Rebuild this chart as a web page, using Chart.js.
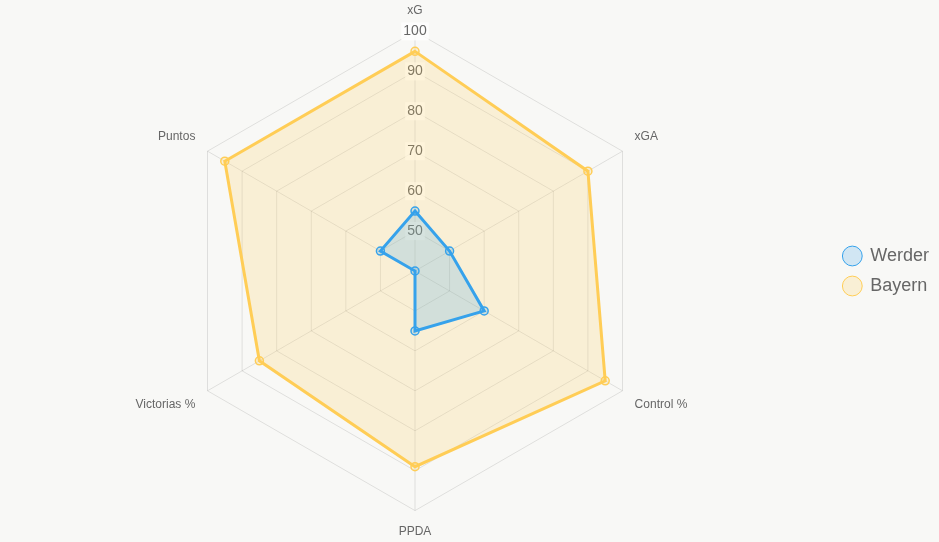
<!DOCTYPE html>
<html>
<head>
<meta charset="utf-8">
<script src="https://cdn.jsdelivr.net/npm/chart.js@4/dist/chart.umd.min.js"></script>
<style>
    html, body { margin: 0; padding: 0; background: #f8f8f6; }
    #wrap { width: 939px; height: 542px; }
</style>
</head>
<body>
<div id="wrap"><canvas id="radarChart"></canvas></div>
<script>
const labels = ['xG', 'xGA', 'Control %', 'PPDA', 'Victorias %', 'Puntos'];
const werderValues = [55, 50, 60, 55, 40, 50];
const bayernValues = [95, 90, 95, 89, 85, 95];

const ctx = document.getElementById('radarChart').getContext('2d');
new Chart(ctx, {
    type: 'radar',
    data: {
        labels: labels,
        datasets: [{
            label: 'Werder',
            data: werderValues,
            borderColor: '#36a2eb',
            backgroundColor: 'rgba(54, 162, 235, 0.2)',
            pointBackgroundColor: 'rgba(54, 162, 235, 0.2)',
            pointBorderColor: '#36a2eb',
            borderWidth: 3,
            pointBorderWidth: 1.5,
            pointRadius: 4
        }, {
            label: 'Bayern',
            data: bayernValues,
            borderColor: '#ffcd56',
            backgroundColor: 'rgba(255, 205, 86, 0.2)',
            pointBackgroundColor: 'rgba(255, 205, 86, 0.2)',
            pointBorderColor: '#ffcd56',
            borderWidth: 3,
            pointBorderWidth: 1.5,
            pointRadius: 4
        }]
    },
    options: {
        responsive: true,
        maintainAspectRatio: false,
        animation: false,
        layout: { padding: { top: 3, bottom: 3 } },
        plugins: {
            legend: {
                position: 'right',
                labels: {
                    usePointStyle: true,
                    pointStyle: 'circle',
                    boxHeight: 14,
                    padding: 12,
                    font: { size: 18 },
                    color: '#666',
                    generateLabels: chart => {
                        const items = Chart.defaults.plugins.legend.labels.generateLabels(chart);
                        items.forEach(item => { item.lineWidth = 1; });
                        return items;
                    }
                }
            }
        },
        scales: {
            r: {
                min: 40,
                max: 100,
                ticks: { stepSize: 10, font: { size: 14 }, color: '#666' },
                pointLabels: { font: { size: 12 }, color: '#666' },
                grid: { color: 'rgba(0,0,0,0.1)' },
                angleLines: { color: 'rgba(0,0,0,0.1)' }
            }
        }
    }
});
</script>
</body>
</html>
